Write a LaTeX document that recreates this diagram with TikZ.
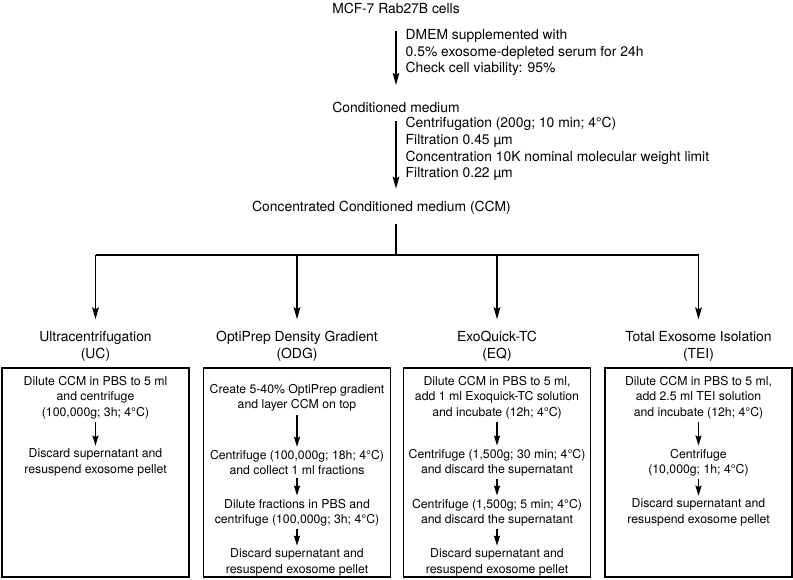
\documentclass[tikz,border=0pt]{standalone}
\usepackage{fontspec}
\setmainfont{TeX Gyre Heros}
\usetikzlibrary{arrows.meta,calc,positioning}

\begin{document}
\begin{tikzpicture}[
  x=0.75pt, y=-0.75pt,
  >={Stealth[length=9pt,width=5pt,inset=1.5pt]},
  line width=1.1pt,
  lbl/.style ={inner sep=0pt,font=\fontsize{10.4}{12.5}\selectfont},
  note/.style={inner sep=0pt,align=left,anchor=west,
               font=\fontsize{10.4}{12.6}\selectfont},
  head/.style={inner sep=0pt,align=center,font=\fontsize{10.4}{12.75}\selectfont},
  panel/.style={draw,line width=1.2pt,minimum width=140pt,minimum height=156.75pt,
                inner sep=0pt},
  stepbox/.style={inner sep=2pt,align=center,font=\fontsize{9.2}{11.5}\selectfont},
  sarr/.style={->,>={Stealth[length=7.5pt,width=4.6pt,inset=1pt]},line width=1pt},
  branch/.style={->,shorten >=8.5pt},
]
\useasboundingbox (0,0) rectangle (793,580);

%% =====================================================
%%  Cells and conditioned medium (top column)
%% =====================================================
\node[lbl] (cells) at (396,8)     {MCF-7 Rab27B cells};
\node[lbl] (cond)  at (396,107)   {Conditioned medium};
\node[lbl] (ccm)   at (381.5,208) {Concentrated Conditioned medium (CCM)};

\draw[->,shorten <=12.75pt,shorten >=12pt] (cells) -- (cond);
\node[note] (culture) at (405,52.5)
      {DMEM supplemented with\\
       0.5\% exosome-depleted serum for 24h\\
       Check cell viability: 95\%};

\draw[->,shorten <=6pt,shorten >=9pt] (cond) -- (cond |- ccm.north);
\node[note] (prep) at (405,149)
      {Centrifugation (200g; 10 min; 4°C)\\
       Filtration 0.45 µm\\
       Concentration 10K nominal molecular weight limit\\
       Filtration 0.22 µm};

%% =====================================================
%%  Split into the four isolation methods
%% =====================================================
\coordinate (fork) at (396,255);
\draw[shorten <=6.2pt] (fork |- ccm.south) -- (fork);

\node[head] (uchead)  at (95.5,346.5)  {Ultracentrifugation\\(UC)};
\node[head] (odghead) at (297,346.5)   {OptiPrep Density Gradient\\(ODG)};
\node[head] (eqhead)  at (497,346.5)   {ExoQuick-TC\\(EQ)};
\node[head] (teihead) at (698.5,346.5) {Total Exosome Isolation\\(TEI)};

\draw (fork -| uchead) -- (fork -| teihead);
\draw[branch] (fork -| uchead)  -- (uchead);
\draw[branch] (fork -| odghead) -- (odghead);
\draw[branch] (fork -| eqhead)  -- (eqhead);
\draw[branch] (fork -| teihead) -- (teihead);

%% =====================================================
%%  Panels
%% =====================================================
\node[panel] (ucbox)  at (95.5,472.5)  {};
\node[panel] (odgbox) at (297,472.5)   {};
\node[panel] (eqbox)  at (497,472.5)   {};
\node[panel] (teibox) at (698.5,472.5) {};

%% UC
\node[stepbox] (uc1) at (95.5,397.5) {Dilute CCM in PBS to 5 ml\\and centrifuge\\(100,000g; 3h; 4°C)};
\node[stepbox] (uc2) at (95.5,462.5) {Discard supernatant and\\resuspend exosome pellet};
\draw[sarr] (uc1) -- (uc2);

%% ODG
\node[stepbox] (odg1) at (297,398)   {Create 5-40\% OptiPrep gradient\\and layer CCM on top};
\node[stepbox] (odg2) at (297,462.5) {Centrifuge (100,000g; 18h; 4°C)\\and collect 1 ml fractions};
\node[stepbox] (odg3) at (297,512.5) {Dilute fractions in PBS and\\centrifuge (100,000g; 3h; 4°C)};
\node[stepbox] (odg4) at (297,562.5) {Discard supernatant and\\resuspend exosome pellet};
\draw[sarr] (odg1) -- (odg2);
\draw[sarr] (odg2) -- (odg3);
\draw[sarr] (odg3) -- (odg4);

%% EQ
\node[stepbox] (eq1) at (497,397.5) {Dilute CCM in PBS to 5 ml,\\add 1 ml Exoquick-TC solution\\and incubate (12h; 4°C)};
\node[stepbox] (eq2) at (497,462.5) {Centrifuge (1,500g; 30 min; 4°C)\\and discard the supernatant};
\node[stepbox] (eq3) at (497,512.5) {Centrifuge (1,500g; 5 min; 4°C)\\and discard the supernatant};
\node[stepbox] (eq4) at (497,562.5) {Discard supernatant and\\resuspend exosome pellet};
\draw[sarr] (eq1) -- (eq2);
\draw[sarr] (eq2) -- (eq3);
\draw[sarr] (eq3) -- (eq4);

%% TEI
\node[stepbox] (tei1) at (698.5,397.5) {Dilute CCM in PBS to 5 ml,\\add 2.5 ml TEI solution\\and incubate (12h; 4°C)};
\node[stepbox] (tei2) at (698.5,462.5) {Centrifuge\\(10,000g; 1h; 4°C)};
\node[stepbox] (tei3) at (698.5,512.5) {Discard supernatant and\\resuspend exosome pellet};
\draw[sarr] (tei1) -- (tei2);
\draw[sarr] (tei2) -- (tei3);

\end{tikzpicture}
\end{document}
